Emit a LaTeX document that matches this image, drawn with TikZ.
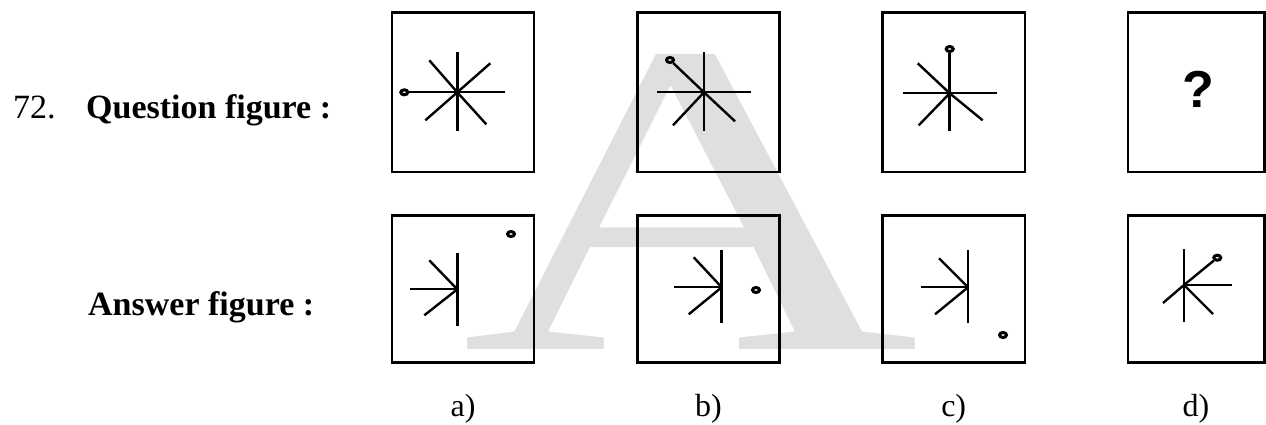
\documentclass[tikz,border=0pt]{standalone}
\usepackage{graphicx}
\usepackage{fontspec}
\setmainfont{Liberation Serif}
\newfontfamily\qsans{Liberation Sans}
\usetikzlibrary{shapes.geometric}
\definecolor{wmgray}{HTML}{DFDFDF}
\begin{document}
\begin{tikzpicture}[x=1pt,y=-1pt,
  frame/.style={draw, line width=2.5pt},
  ray/.style={line width=2.4pt},
  vray/.style={line width=2.9pt},
  hray/.style={line width=2.1pt},
  ring/.style={ellipse, draw, line width=3pt, minimum width=7pt, minimum height=5pt, inner sep=0pt, fill=white},
  lbl/.style={font=\fontsize{34}{34}\selectfont, anchor=base west, inner sep=0pt},
  blbl/.style={font=\fontsize{34}{34}\selectfont\bfseries, anchor=base west, inner sep=0pt},
  opt/.style={font=\fontsize{32}{32}\selectfont, anchor=base, inner sep=0pt}]
\useasboundingbox (0,0) rectangle (1266,424);
% watermark
\node[anchor=base, inner sep=0pt, text=wmgray, font=\fontsize{447}{447}\selectfont] (wm) at (691,349) {\scalebox{1.42}[1]{A}};
% frames
\draw[frame] (392,12.7) rectangle (534,172);
\draw[frame] (637.5,12.7) rectangle (779.5,172);
\draw[frame] (882.5,12.7) rectangle (1025,172);
\draw[frame] (1128,12.7) rectangle (1264.5,172);
\draw[frame] (392,215.7) rectangle (534,362.7);
\draw[frame] (637.5,215.7) rectangle (779.5,362.7);
\draw[frame] (882.5,215.7) rectangle (1025,362.7);
\draw[frame] (1128,215.7) rectangle (1264.5,362.7);
% question figure 1
\coordinate (c1) at (457.3,92.3);
\node[ring] (r1) at (404.3,92.3) {};
\draw[vray] (c1) -- ++(0,-40);
\draw[vray] (c1) -- ++(0,39);
\draw[hray] (r1) -- (c1) -- ++(48,0);
\draw[ray] (c1) -- ++(-28,-32);
\draw[ray] (c1) -- ++(29,32);
\draw[ray] (c1) -- ++(33,-29);
\draw[ray] (c1) -- ++(-32,28);
% question figure 2
\coordinate (c2) at (704,92.3);
\node[ring] (r2) at (670,60) {};
\draw[vray] (c2) -- ++(0,-40);
\draw[vray] (c2) -- ++(0,39);
\draw[hray] (c2) -- ++(-47,0);
\draw[hray] (c2) -- ++(47,0);
\draw[ray] (r2) -- (c2);
\draw[ray] (c2) -- ++(31,29);
\draw[ray] (c2) -- ++(-31,33);
% question figure 3
\coordinate (c3) at (949.7,93.3);
\node[ring] (r3) at (949.7,49) {};
\draw[vray] (r3) -- (c3);
\draw[vray] (c3) -- ++(0,38);
\draw[hray] (c3) -- ++(-47,0);
\draw[hray] (c3) -- ++(47,0);
\draw[ray] (c3) -- ++(-32,-30);
\draw[ray] (c3) -- ++(33,27);
\draw[ray] (c3) -- ++(-31,32);
% question mark
\node[inner sep=0pt, font=\qsans\bfseries\fontsize{52}{52}\selectfont] (qm) at (1198,89) {?};
% answer a
\coordinate (c5) at (457.3,289.3);
\draw[vray] (c5) -- ++(0,-36.6);
\draw[vray] (c5) -- ++(0,36.7);
\draw[hray] (c5) -- ++(-47,0);
\draw[ray] (c5) -- ++(-28,-29);
\draw[ray] (c5) -- ++(-33,26);
\node[ring] (r5) at (511,234) {};
% answer b
\coordinate (c6) at (721.7,287.3);
\draw[vray] (c6) -- ++(0,-37.3);
\draw[vray] (c6) -- ++(0,36);
\draw[hray] (c6) -- ++(-47.4,0);
\draw[ray] (c6) -- ++(-28,-30);
\draw[ray] (c6) -- ++(-33,27);
\node[ring] (r6) at (756,290) {};
% answer c
\coordinate (c7) at (968,287.3);
\draw[vray] (c7) -- ++(0,-37.3);
\draw[vray] (c7) -- ++(0,36);
\draw[hray] (c7) -- ++(-47,0);
\draw[ray] (c7) -- ++(-29,-29);
\draw[ray] (c7) -- ++(-33,27);
\node[ring] (r7) at (1003,335) {};
% answer d
\coordinate (c8) at (1184,285);
\node[ring] (r8) at (1217.3,257.7) {};
\draw[vray] (c8) -- ++(0,-36);
\draw[vray] (c8) -- ++(0,37);
\draw[hray] (c8) -- ++(48,0);
\draw[ray] (r8) -- (c8);
\draw[ray] (c8) -- ++(29,29);
\draw[ray] (c8) -- ++(-21,18);
% texts
\node[lbl] (num) at (13,118) {72.};
\node[blbl] (qf) at (86,118) {Question figure :};
\node[blbl] (af) at (88,315) {Answer figure :};
\node[opt] (oa) at (463,416) {a)};
\node[opt] (ob) at (708.5,416) {b)};
\node[opt] (oc) at (953.7,416) {c)};
\node[opt] (od) at (1196,416) {d)};
\end{tikzpicture}
\end{document}
